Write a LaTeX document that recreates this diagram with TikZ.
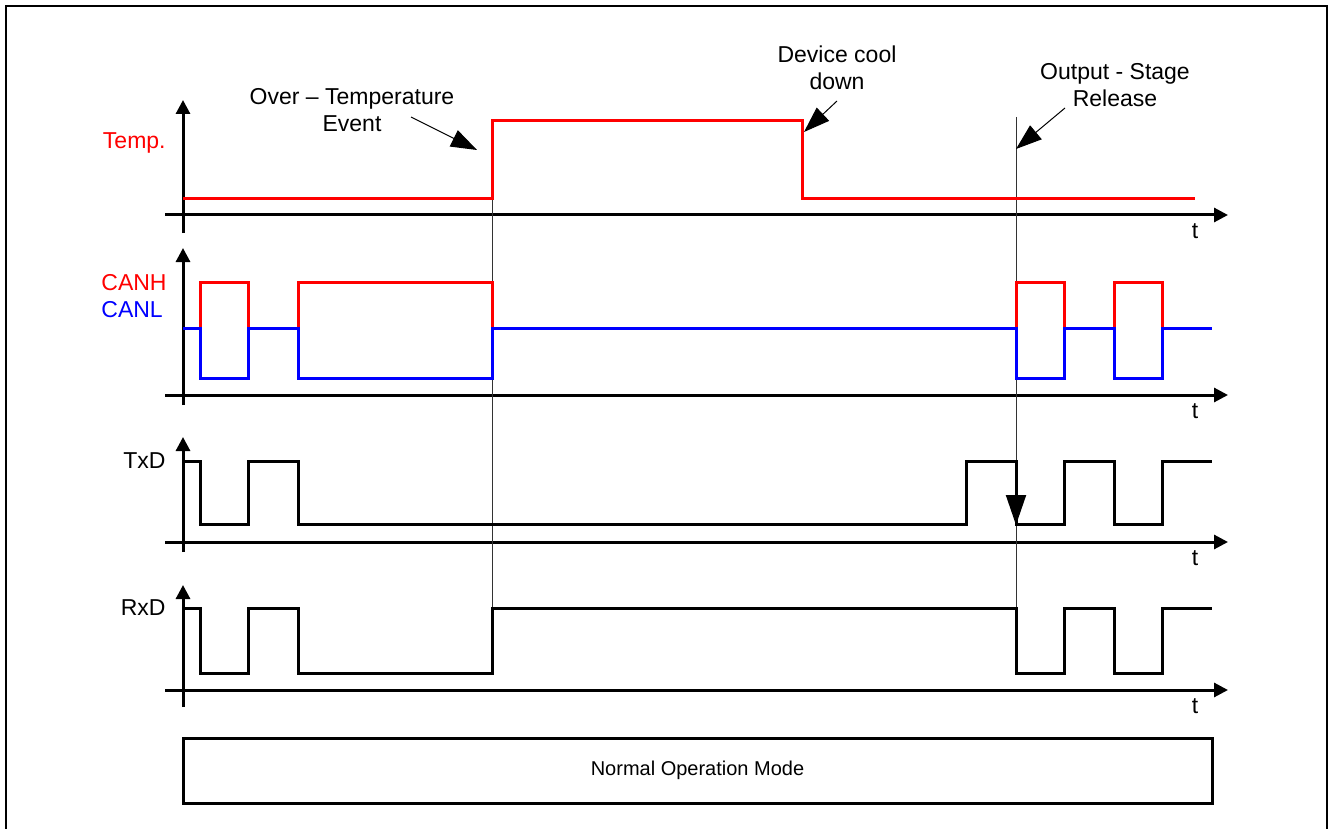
\documentclass[tikz,border=0pt]{standalone}
\usepackage{fontspec}
\setmainfont{Liberation Sans}
\usetikzlibrary{arrows.meta,positioning}
\definecolor{SigRed}{HTML}{FF0000}
\definecolor{SigBlue}{HTML}{0000FF}
\tikzset{
  axis/.style={line width=1.5pt,-{Triangle[length=7pt,width=7pt]}},
  wave/.style={line width=1.5pt},
  marker/.style={line width=0.5pt,black!80},
  callout/.style={line width=0.5pt,-{Triangle[length=13pt,width=9pt]}},
  lbl/.style={font=\fontsize{11.5}{13.5}\selectfont,align=center,inner sep=0pt},
}

\begin{document}
\begin{tikzpicture}[x=0.5pt,y=-0.5pt]
  \useasboundingbox (0,0) rectangle (1329,829);
  \draw[line width=1pt] (6,829) -- (6,6) -- (1327,6) -- (1327,829);

  % axes of the four traces
  \foreach \name/\base/\top/\bot in {temp/215/100/233, can/395/248/405, txd/542/437/552, rxd/690/585/707}{
    \draw[axis] (183,\bot) -- (183,\top);
    \draw[axis] (165,\base) -- (1228,\base);
    \node[lbl,anchor=north] (t-\name) at (1195,\base+8) {t};
  }

  % event markers
  \draw[marker] (492,121) -- (492,608);
  \draw[marker] (1016,117) -- (1016,608);

  % traces
  \draw[wave,SigRed] (183,199) -| (492,121) -| (802,199) -- (1195,199);
  \draw[wave,SigRed] (183,328) -| (200,282) -| (248,328) -| (298,282) -| (492,328)
    -| (1016,282) -| (1064,328) -| (1114,282) -| (1162,328) -- (1212,328);
  \draw[wave,SigBlue] (183,328) -| (200,378) -| (248,328) -| (298,378) -| (492,328)
    -| (1016,378) -| (1064,328) -| (1114,378) -| (1162,328) -- (1212,328);
  \draw[wave] (183,461) -| (200,524) -| (248,461) -| (298,524) -| (966,461)
    -| (1016,524) -| (1064,461) -| (1114,524) -| (1162,461) -- (1212,461);
  \draw[wave] (183,608) -| (200,673) -| (248,608) -| (298,673) -| (492,608)
    -| (1016,673) -| (1064,608) -| (1114,673) -| (1162,608) -- (1212,608);
  \draw[line width=1pt,-{Triangle[length=15pt,width=10pt]}] (1016,470) -- (1016,525);

  % trace names
  \node[lbl,text=SigRed,anchor=east] (temp) at (166,143) {Temp.};
  \node[lbl,text=SigRed,anchor=west] (canh) at (101,283) {CANH};
  \node[lbl,text=SigBlue,anchor=west] (canl) at (101,310) {CANL};
  \node[lbl,anchor=east] (txd) at (166,461) {TxD};
  \node[lbl,anchor=east] (rxd) at (166,608) {RxD};

  % callouts
  \node[lbl] (ote) at (352,110) {Over -- Temperature\\Event};
  \node[lbl] (cool) at (837,68) {Device cool\\down};
  \node[lbl] (release) at (1115,85) {Output - Stage\\Release};
  \coordinate (ote-from) at (411,117);
  \coordinate (ote-to) at (477,150);
  \coordinate (cool-from) at (837,101);
  \coordinate (cool-to) at (804,132);
  \coordinate (release-from) at (1065,108);
  \coordinate (release-to) at (1016,149);
  \draw[callout] (ote-from) -- (ote-to);
  \draw[callout] (cool-from) -- (cool-to);
  \draw[callout] (release-from) -- (release-to);

  % operating mode
  \node[draw,line width=1.5pt,minimum width=514.5pt,minimum height=32.5pt,
    inner sep=0pt,font=\fontsize{10}{12}\selectfont] (mode) at (697.5,770.5) {Normal Operation Mode};
\end{tikzpicture}
\end{document}
